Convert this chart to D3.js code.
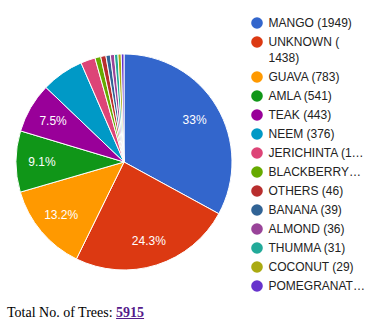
<!DOCTYPE html>
<html>
<head>
<meta charset="utf-8">
<script src="https://cdn.jsdelivr.net/npm/d3@7"></script>
<style>
  html, body { margin: 0; padding: 0; background: #fff; }
  svg { display: block; }
  .footer { position: absolute; left: 7px; top: 305px; font-family: "Liberation Serif", "Times New Roman", serif; font-size: 14px; color: #000; }
  .footer a { color: #551A8B; font-weight: bold; text-decoration: underline; }
</style>
</head>
<body>
<svg id="chart" width="374" height="300"></svg>
<div class="footer">Total No. of Trees: <a href="#" id="total"></a></div>
<script>
const categories = ["MANGO", "UNKNOWN", "GUAVA", "AMLA", "TEAK", "NEEM", "JERICHINTA", "BLACKBERRY", "OTHERS", "BANANA", "ALMOND", "THUMMA", "COCONUT", "POMEGRANATE"];
const values = [1949, 1438, 783, 541, 443, 376, 129, 51, 46, 39, 36, 31, 29, 24];
const colors = ["#3366cc", "#dc3912", "#ff9900", "#109618", "#990099", "#0099c6", "#dd4477", "#66aa00", "#b82e2e", "#316395", "#994499", "#22aa99", "#aaaa11", "#6633cc"];
const legendLines = [
  ["MANGO (1949)"], ["UNKNOWN (", "1438)"], ["GUAVA (783)"], ["AMLA (541)"], ["TEAK (443)"], ["NEEM (376)"],
  ["JERICHINTA (1\u2026"], ["BLACKBERRY\u2026"], ["OTHERS (46)"], ["BANANA (39)"], ["ALMOND (36)"], ["THUMMA (31)"],
  ["COCONUT (29)"], ["POMEGRANAT\u2026"]
];
const total = 5915;

const svg = d3.select("#chart");
const cx = 124, cy = 162, R = 108;
const data = categories.map((c, i) => ({ name: c, value: values[i], color: colors[i] }));

const pie = d3.pie().sort(null).value(d => d.value);
const arcs = pie(data);
const arc = d3.arc().innerRadius(0).outerRadius(R);
const labelArc = d3.arc().innerRadius(R * 0.76).outerRadius(R * 0.76);

const g = svg.append("g").attr("transform", `translate(${cx},${cy})`);
g.selectAll("path").data(arcs).enter().append("path")
  .attr("d", arc)
  .attr("fill", d => d.data.color)
  .attr("stroke", "#fff")
  .attr("stroke-width", 1);

const sum = d3.sum(values);
const fmt = v => { const p = v / sum * 100; const r = Math.round(p * 10) / 10; return (Number.isInteger(r) ? r.toFixed(0) : r.toFixed(1)) + "%"; };

g.selectAll("text.lbl").data(arcs.filter(d => (d.endAngle - d.startAngle) > 0.45)).enter().append("text")
  .attr("class", "lbl")
  .attr("transform", d => `translate(${labelArc.centroid(d)})`)
  .attr("text-anchor", "middle")
  .attr("dy", "0.36em")
  .attr("fill", "#fff")
  .style("font-family", "'Liberation Sans', Arial, sans-serif")
  .style("font-size", "12px")
  .text(d => fmt(d.data.value));

// Legend
let y = 23;
const lg = svg.append("g");
data.forEach((d, i) => {
  const lines = legendLines[i];
  lg.append("circle").attr("cx", 257).attr("cy", y).attr("r", 5.8).attr("fill", d.color);
  const t = lg.append("text")
    .attr("x", 268.5).attr("y", y)
    .attr("fill", "#222")
    .style("font-family", "'Liberation Sans', Arial, sans-serif")
    .style("font-size", "12px");
  lines.forEach((ln, k) => {
    t.append("tspan").attr("x", 268.5).attr("dy", k === 0 ? "0.36em" : "16px").text(ln);
  });
  y += 19 + (lines.length - 1) * 16;
});

d3.select("#total").text(total);
</script>
</body>
</html>
